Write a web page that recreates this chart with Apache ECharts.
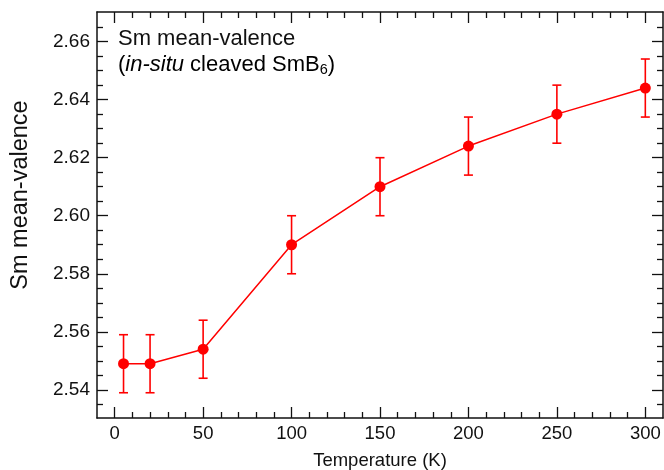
<!DOCTYPE html>
<html>
<head>
<meta charset="utf-8">
<script src="https://cdn.jsdelivr.net/npm/echarts@6/dist/echarts.min.js"></script>
<style>html,body{margin:0;padding:0;background:#fff}#c{width:664px;height:470px}</style>
</head>
<body>
<div id="c"></div>
<script>
// ---- data ----
var temperatures = [5, 20, 50, 100, 150, 200, 250, 300];
var valence      = [2.549, 2.549, 2.554, 2.590, 2.610, 2.624, 2.635, 2.644];
var valenceErr   = [0.010, 0.010, 0.010, 0.010, 0.010, 0.010, 0.010, 0.010];
var xTickLabels  = [0, 50, 100, 150, 200, 250, 300];
var xMinorTicks  = [10, 20, 30, 40, 60, 70, 80, 90, 110, 120, 130, 140, 160, 170, 180, 190, 210, 220, 230, 240, 260, 270, 280, 290];
var yTickLabels  = [2.54, 2.56, 2.58, 2.60, 2.62, 2.64, 2.66];
var yMinorTicks  = [2.535, 2.545, 2.55, 2.555, 2.565, 2.57, 2.575, 2.585, 2.59, 2.595, 2.605, 2.61, 2.615, 2.625, 2.63, 2.635, 2.645, 2.65, 2.655, 2.665];

var FONT = 'Liberation Sans, Arial, Helvetica, sans-serif';
var INK = '#111';
var RED = '#ff0000';
var X_MIN = -10, X_MAX = 310, Y_MIN = 2.5303, Y_MAX = 2.6702;

function axisX(pos, labels, isMinor) {
  return {
    type: 'value', position: pos, min: X_MIN, max: X_MAX,
    axisLine: { show: !isMinor, onZero: false, lineStyle: { color: INK, width: 1.5 } },
    axisTick: { show: true, inside: true, length: isMinor ? 6 : 11, customValues: isMinor ? xMinorTicks : xTickLabels, lineStyle: { color: INK, width: 1.3 } },
    axisLabel: { show: labels, customValues: xTickLabels, margin: 6, color: INK, fontSize: 18.5, fontFamily: FONT },
    splitLine: { show: false }
  };
}
function axisY(pos, labels, isMinor) {
  return {
    type: 'value', position: pos, min: Y_MIN, max: Y_MAX,
    axisLine: { show: !isMinor, onZero: false, lineStyle: { color: INK, width: 1.5 } },
    axisTick: { show: true, inside: true, length: isMinor ? 6 : 11, customValues: isMinor ? yMinorTicks : yTickLabels, lineStyle: { color: INK, width: 1.3 } },
    axisLabel: { show: labels, customValues: yTickLabels, margin: 7, color: INK, fontSize: 19, fontFamily: FONT,
      formatter: function (v) { return v.toFixed(2); } },
    splitLine: { show: false }
  };
}

var xBottom = axisX('bottom', true, false);
xBottom.name = 'Temperature (K)';
xBottom.nameLocation = 'middle';
xBottom.nameGap = 33;
xBottom.nameTextStyle = { color: INK, fontSize: 18.5, fontFamily: FONT };

var yLeft = axisY('left', true, false);
yLeft.name = 'Sm mean-valence';
yLeft.nameLocation = 'middle';
yLeft.nameGap = 64;
yLeft.nameTextStyle = { color: INK, fontSize: 23.5, fontFamily: FONT, padding: [0, 0, 0, 40] };

var errData = temperatures.map(function (t, i) { return [t, valence[i], valenceErr[i]]; });
var lineData = temperatures.map(function (t, i) { return [t, valence[i]]; });

var chart = echarts.init(document.getElementById('c'), null, { renderer: 'canvas' });
chart.setOption({
  animation: false,
  backgroundColor: '#fff',
  grid: { left: 97, right: 1, top: 12, bottom: 52, containLabel: false, outerBoundsMode: 'none' },
  xAxis: [
    xBottom,
    axisX('bottom', false, true),
    axisX('top', false, false),
    axisX('top', false, true)
  ],
  yAxis: [
    yLeft,
    axisY('left', false, true),
    axisY('right', false, false),
    axisY('right', false, true)
  ],
  graphic: [
    { type: 'text', left: 118, top: 28, style: { text: 'Sm mean-valence', font: '22px ' + FONT, fill: INK } },
    { type: 'text', left: 118, top: 52, style: {
        text: '{n|(}{i|in-situ}{n| cleaved SmB}{s|6}{n|)}',
        rich: {
          n: { fontSize: 22, fontFamily: FONT, color: INK, lineHeight: 25, height: 25 },
          i: { fontSize: 22, fontFamily: FONT, fontStyle: 'italic', color: INK, lineHeight: 25, height: 25 },
          s: { fontSize: 14.5, fontFamily: FONT, color: INK, lineHeight: 15, padding: [10, 0, 0, 0] }
        }
    } }
  ],
  series: [
    {
      type: 'custom', xAxisIndex: 0, yAxisIndex: 0, z: 3,
      data: errData,
      renderItem: function (params, api) {
        var x = api.value(0), y = api.value(1), e = api.value(2);
        var top = api.coord([x, y + e]);
        var bot = api.coord([x, y - e]);
        var hw = 4.5;
        var st = { stroke: RED, lineWidth: 1.6 };
        return { type: 'group', children: [
          { type: 'line', shape: { x1: top[0], y1: top[1], x2: bot[0], y2: bot[1] }, style: st },
          { type: 'line', shape: { x1: top[0] - hw, y1: top[1], x2: top[0] + hw, y2: top[1] }, style: st },
          { type: 'line', shape: { x1: bot[0] - hw, y1: bot[1], x2: bot[0] + hw, y2: bot[1] }, style: st }
        ] };
      }
    },
    {
      type: 'line', xAxisIndex: 0, yAxisIndex: 0, z: 4,
      data: lineData,
      symbol: 'circle', symbolSize: 11,
      lineStyle: { color: RED, width: 1.5 },
      itemStyle: { color: RED },
      emphasis: { disabled: true }
    }
  ]
});
</script>
</body>
</html>
